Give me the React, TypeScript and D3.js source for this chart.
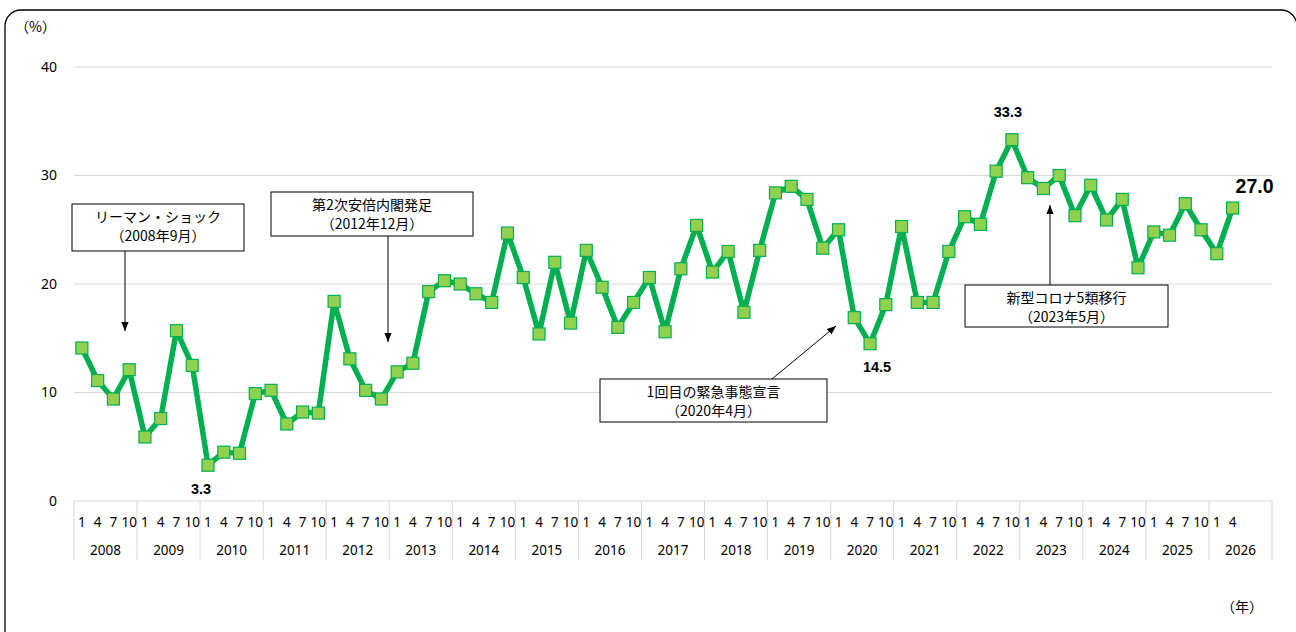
import React, { useEffect } from "react";
import * as d3 from "d3";

// 年・四半期（1,4,7,10月）
const years = [
  "2008", "2009", "2010", "2011", "2012", "2013", "2014", "2015", "2016", "2017",
  "2018", "2019", "2020", "2021", "2022", "2023", "2024", "2025", "2026",
];
const quarters = ["1", "4", "7", "10"];

// 値（%）、2008年1月～2026年4月
const values = [
  14.1, 11.1, 9.4, 12.1,
  5.9, 7.6, 15.7, 12.5,
  3.3, 4.5, 4.4, 9.9,
  10.2, 7.1, 8.2, 8.1,
  18.4, 13.1, 10.2, 9.4,
  11.9, 12.7, 19.3, 20.3,
  20.0, 19.1, 18.3, 24.7,
  20.6, 15.4, 22.0, 16.4,
  23.1, 19.7, 16.0, 18.3,
  20.6, 15.6, 21.4, 25.4,
  21.1, 23.0, 17.4, 23.1,
  28.4, 29.0, 27.8, 23.3,
  25.0, 16.9, 14.5, 18.1,
  25.3, 18.3, 18.3, 23.0,
  26.2, 25.5, 30.4, 33.3,
  29.8, 28.8, 30.0, 26.3,
  29.1, 25.9, 27.8, 21.5,
  24.8, 24.5, 27.4, 25.0,
  22.8, 27.0,
];

const yTicks = [0, 10, 20, 30, 40];

// 値ラベル（点のインデックス）
const valueLabels = [
  { i: 8, dx: -7, dy: 29, size: 14.5 },
  { i: 50, dx: 7, dy: 28, size: 14.5 },
  { i: 59, dx: -4, dy: -23, size: 14.5 },
  { i: 73, dx: 22, dy: -15, size: 19.5 },
];

// 注記
const notes = [
  { lines: ["リーマン・ショック", "（2008年9月）"], x: 72, y: 204, w: 172, h: 47, from: [125, 251], to: [125, 331] },
  { lines: ["第2次安倍内閣発足", "（2012年12月）"], x: 271, y: 192, w: 202, h: 44, from: [388, 236], to: [388, 342] },
  { lines: ["1回目の緊急事態宣言", "（2020年4月）"], x: 600, y: 379, w: 227, h: 43, from: [772, 379], to: [836, 326] },
  { lines: ["新型コロナ5類移行", "（2023年5月）"], x: 965, y: 285, w: 203, h: 42, from: [1050, 285], to: [1050, 205] },
];

const W = 1296;
const H = 632;
const left = 74;
const right = 1272;
const top = 67;
const bottom = 501;

const NUM_FONT = "'Noto Sans', 'Liberation Sans', sans-serif";
const JP_FONT = "'Noto Sans CJK JP', sans-serif";
const BOLD_FONT = "'Liberation Sans', Arial, sans-serif";

export default function App() {
  useEffect(() => {
    document.body.style.margin = "0";
  }, []);

  const slots = years.flatMap((yr) => quarters.map((q) => `${yr}-${q}`));
  const x = d3.scaleBand<string>().domain(slots).range([left, right]).padding(0);
  const yearX = d3.scaleBand<string>().domain(years).range([left, right]).padding(0);
  const y = d3.scaleLinear().domain([0, 40]).range([bottom, top]);

  const pts = values.map((v, i) => ({ key: slots[i], v }));
  const cx = (k: string) => (x(k) as number) + x.bandwidth() / 2;

  const line = d3
    .line<{ key: string; v: number }>()
    .x((d) => cx(d.key))
    .y((d) => y(d.v));

  const ms = 12;

  return (
    <svg width={W} height={H} style={{ display: "block", background: "#fff" }}>
      <defs>
        <marker id="arr" viewBox="0 0 10 10" refX="10" refY="5" markerWidth="9" markerHeight="9" orient="auto-start-reverse">
          <path d="M0,1 L10,5 L0,9 Z" fill="#000" />
        </marker>
      </defs>
      <rect x={5} y={10} width={1292} height={700} rx={16} ry={16} fill="#fff" stroke="#000" strokeWidth={1.3} />

      <text x={15} y={32} fontFamily={JP_FONT} fontSize={14} fill="#000">（%）</text>

      {yTicks.map((t) => (
        <g key={t}>
          {t > 0 && <line x1={left} x2={right} y1={y(t)} y2={y(t)} stroke="#d9d9d9" strokeWidth={1} />}
          <text x={57} y={y(t)} dy="0.35em" textAnchor="end" fontFamily={NUM_FONT} fontSize={14} fill="#000">
            {t}
          </text>
        </g>
      ))}

      {/* カテゴリ軸 */}
      <line x1={left} x2={right} y1={bottom} y2={bottom} stroke="#d9d9d9" strokeWidth={1} />
      {years.map((yr) => (
        <g key={yr}>
          <line x1={yearX(yr) as number} x2={yearX(yr) as number} y1={bottom} y2={560} stroke="#d9d9d9" strokeWidth={1} />
          <text
            x={(yearX(yr) as number) + yearX.bandwidth() / 2}
            y={555}
            textAnchor="middle"
            fontFamily={NUM_FONT}
            fontSize={13.5}
            fill="#000"
          >
            {yr}
          </text>
        </g>
      ))}
      <line x1={right} x2={right} y1={bottom} y2={560} stroke="#d9d9d9" strokeWidth={1} />
      {pts.map((d) => (
        <text key={d.key} x={cx(d.key)} y={527} textAnchor="middle" fontFamily={NUM_FONT} fontSize={13.5} fill="#000">
          {d.key.split("-")[1]}
        </text>
      ))}

      {/* 系列 */}
      <path d={line(pts) || ""} fill="none" stroke="#00b050" strokeWidth={5.5} strokeLinejoin="round" />
      {pts.map((d) => (
        <rect
          key={d.key}
          x={cx(d.key) - ms / 2}
          y={y(d.v) - ms / 2}
          width={ms}
          height={ms}
          fill="#92d050"
          stroke="#00b050"
          strokeWidth={1.2}
        />
      ))}

      {valueLabels.map((l) => (
        <text
          key={l.i}
          x={cx(pts[l.i].key) + l.dx}
          y={y(pts[l.i].v) + l.dy}
          textAnchor="middle"
          fontFamily={BOLD_FONT}
          fontWeight="bold"
          fontSize={l.size}
          fill="#000"
        >
          {pts[l.i].v.toFixed(1)}
        </text>
      ))}

      {/* 注記 */}
      {notes.map((n, k) => (
        <g key={k}>
          <line x1={n.from[0]} y1={n.from[1]} x2={n.to[0]} y2={n.to[1]} stroke="#000" strokeWidth={1} markerEnd="url(#arr)" />
          <rect x={n.x} y={n.y} width={n.w} height={n.h} fill="#fff" stroke="#000" strokeWidth={1} />
          {n.lines.map((s, j) => (
            <text
              key={j}
              x={n.x + n.w / 2}
              y={n.y + 18 + j * 19}
              textAnchor="middle"
              fontFamily={JP_FONT}
              fontSize={14}
              fill="#000"
            >
              {s}
            </text>
          ))}
        </g>
      ))}

      <text x={1263} y={612} textAnchor="end" fontFamily={JP_FONT} fontSize={14} fill="#000">（年）</text>
    </svg>
  );
}
